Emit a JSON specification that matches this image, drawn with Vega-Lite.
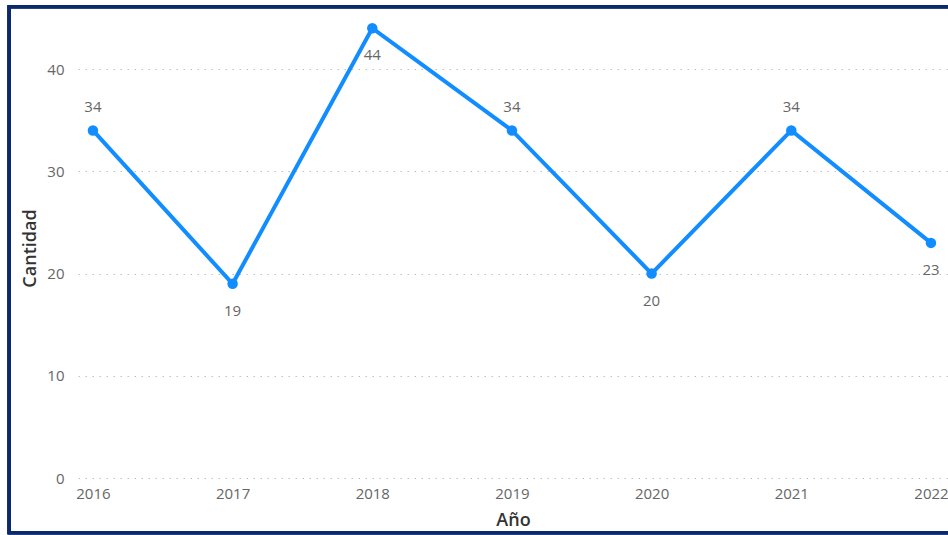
{
  "$schema": "https://vega.github.io/schema/vega-lite/v6.json",
  "autosize": {"type": "none"},
  "width": 870,
  "height": 460,
  "padding": {"left": 78, "right": 0, "top": 18, "bottom": 57},
  "background": "#ffffff",
  "config": {
    "view": {"stroke": null},
    "font": "Open Sans",
    "axis": {
      "labelFont": "Open Sans",
      "titleFont": "Open Sans",
      "labelColor": "#666666",
      "titleColor": "#333333",
      "labelFontSize": 15,
      "titleFontSize": 18,
      "titleFontWeight": 600,
      "ticks": false,
      "domain": false
    }
  },
  "data": {
    "values": [
      {"Año": 2016, "Cantidad": 34},
      {"Año": 2017, "Cantidad": 19},
      {"Año": 2018, "Cantidad": 44},
      {"Año": 2019, "Cantidad": 34},
      {"Año": 2020, "Cantidad": 20},
      {"Año": 2021, "Cantidad": 34},
      {"Año": 2022, "Cantidad": 23}
    ]
  },
  "encoding": {
    "x": {
      "field": "Año",
      "type": "quantitative",
      "scale": {"domain": [2015.893, 2022.122], "nice": false, "zero": false},
      "axis": {
        "title": "Año",
        "values": [2016, 2017, 2018, 2019, 2020, 2021, 2022],
        "format": "d",
        "grid": false,
        "labelPadding": 8,
        "titlePadding": 10,
        "labelFlush": false,
        "labelOverlap": false
      }
    },
    "y": {
      "field": "Cantidad",
      "type": "quantitative",
      "scale": {"domain": [0, 45], "nice": false},
      "axis": {
        "title": "Cantidad",
        "values": [0, 10, 20, 30, 40],
        "grid": true,
        "gridColor": "#c0c0c0",
        "gridDash": [1.5, 5.5],
        "gridWidth": 1,
        "labelPadding": 14,
        "titlePadding": 7
      }
    }
  },
  "layer": [
    {
      "mark": {"type": "rect", "fill": null, "stroke": "#0b2a6e", "strokeWidth": 3},
      "encoding": {
        "x": {"datum": 2015.4},
        "x2": {"datum": 2022.6},
        "y": {"datum": 46.1},
        "y2": {"datum": -5.35}
      }
    },
    {
      "mark": {"type": "line", "color": "#118DFF", "strokeWidth": 4}
    },
    {
      "mark": {"type": "point", "filled": true, "color": "#118DFF", "size": 110, "opacity": 1}
    },
    {
      "transform": [{"filter": "datum.Cantidad == 34"}],
      "mark": {"type": "text", "fontSize": 15, "color": "#666666", "font": "Open Sans", "dy": -23},
      "encoding": {
        "text": {"field": "Cantidad", "type": "quantitative"}
      }
    },
    {
      "transform": [{"filter": "datum.Cantidad != 34"}],
      "mark": {"type": "text", "fontSize": 15, "color": "#666666", "font": "Open Sans", "dy": 27},
      "encoding": {
        "text": {"field": "Cantidad", "type": "quantitative"}
      }
    }
  ]
}
